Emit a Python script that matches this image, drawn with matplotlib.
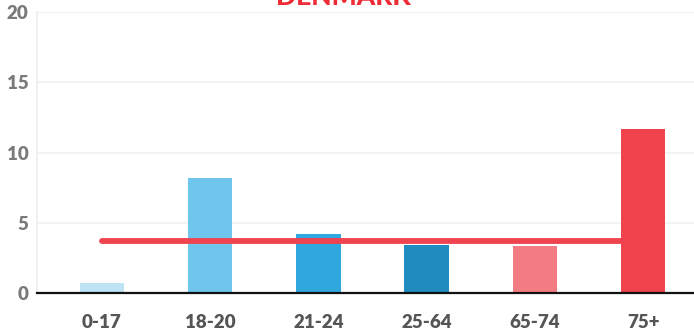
import matplotlib
matplotlib.use("Agg")
import matplotlib.pyplot as plt

# share by age group, with the national average drawn across
groups = ["0-17", "18-20", "21-24", "25-64", "65-74", "75+"]
values = [0.7, 8.2, 4.2, 3.4, 3.35, 11.7]
average = 3.7
colors = ["#bde3f5", "#6ec6ec", "#2ea8de", "#1f8bbf", "#f37b82", "#ef434e"]

plt.rcParams["font.family"] = ["Lato", "DejaVu Sans"]

fig = plt.figure(figsize=(6.94, 3.34), dpi=100)
ax = fig.add_axes([37 / 694, 1 - 293 / 334, 1 - 37 / 694, 281 / 334])

x = list(range(len(groups)))
ax.bar(x, values, width=0.41, color=colors, zorder=2)
ax.plot([x[0], x[-1]], [average, average], color="#ef4350", lw=4.2,
        solid_capstyle="round", zorder=3)

ax.set_xlim(-0.6, 5.47)
ax.set_ylim(0, 20)
ax.set_yticks([0, 5, 10, 15, 20])
ax.set_xticks(x)
ax.set_xticklabels(groups)
ax.grid(axis="y", color="#f3f3f3", lw=1.5, zorder=0)
ax.tick_params(length=0)
ax.tick_params(axis="y", pad=6, labelsize=13.5, labelcolor="#7a7a7a")
ax.tick_params(axis="x", pad=15, labelsize=13.5, labelcolor="#555555")
for lbl in ax.get_xticklabels() + ax.get_yticklabels():
    lbl.set_fontweight("heavy")

for s in ("top", "right"):
    ax.spines[s].set_visible(False)
ax.spines["left"].set_color("#eeeeee")
ax.spines["left"].set_linewidth(1.2)
ax.spines["bottom"].set_color("#111111")
ax.spines["bottom"].set_linewidth(1.6)
ax.spines["bottom"].set_zorder(4)

fig.text(0.495, 1.01, "DENMARK", ha="center", va="center", color="#ef2b36",
         fontsize=19, fontweight="black")

fig.savefig("out.png", dpi=100)
